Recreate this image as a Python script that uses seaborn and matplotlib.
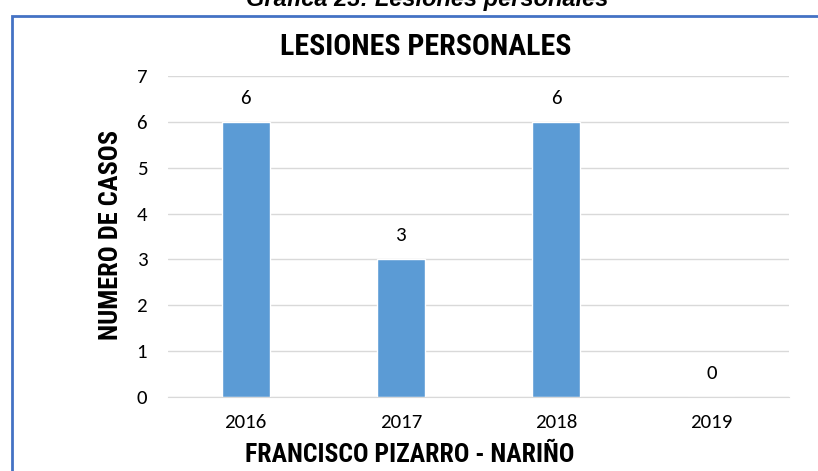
import matplotlib.pyplot as plt
import matplotlib.patches as patches
from matplotlib import font_manager as fm
import pandas as pd
import seaborn as sns

years = ['2016', '2017', '2018', '2019']
cases = [6, 3, 6, 0]

BAR = '#5B9BD5'
GRID = '#D9D9D9'
BORDER = '#4472C4'

bold_fonts = {f.name for f in fm.fontManager.ttflist
              if f.weight in (700, 'bold') and f.style == 'normal'}
installed = {f.name for f in fm.fontManager.ttflist}


def pick(candidates, pool):
    return [c for c in candidates if c in pool][:1] + ['DejaVu Sans']


NARROW = pick(['Liberation Sans Narrow', 'Arial Narrow', 'Roboto Condensed',
               'Fira Sans Condensed', 'IBM Plex Sans Condensed',
               'Archivo Narrow', 'Asap Condensed', 'PT Sans Narrow',
               'Pragati Narrow', 'Liberation Sans'],
              bold_fonts)
BODY = pick(['Carlito', 'Calibri', 'Lato'], installed)
ARIAL = pick(['Liberation Sans', 'Arimo'], installed)


def main():
    sns.set_style('white')
    plt.rcParams['font.family'] = BODY
    plt.rcParams['text.color'] = 'black'

    df = pd.DataFrame({'year': years, 'cases': cases})

    fig = plt.figure(figsize=(8.18, 4.71), dpi=100)
    ax = fig.add_axes([0.2054, 0.157, 0.759, 0.6815])

    sns.barplot(data=df, x='year', y='cases', color=BAR, width=0.31,
                saturation=1, ax=ax)

    ax.set_ylim(0, 7)
    ax.set_yticks(range(0, 8))
    ax.yaxis.grid(True, color=GRID, linewidth=1)
    ax.set_axisbelow(True)
    for s in ['top', 'right', 'left']:
        ax.spines[s].set_visible(False)
    ax.spines['bottom'].set_color(GRID)
    ax.tick_params(axis='both', length=0, labelsize=15, colors='black')
    ax.tick_params(axis='x', pad=12)
    ax.tick_params(axis='y', pad=15)
    ax.set_xlabel('')
    ax.set_ylabel('')

    for i, v in enumerate(cases):
        ax.annotate(str(v), (i, v), xytext=(0, 17), textcoords='offset points',
                    ha='center', va='center', fontsize=15)

    fig.text(410 / 818, 1 - 455 / 471, 'FRANCISCO PIZARRO - NARIÑO', ha='center',
             va='center', fontsize=18.5, fontweight='bold', family=NARROW)
    fig.text(111 / 818, 1 - 235 / 471, 'NUMERO DE CASOS', ha='center',
             va='center', rotation=90, fontsize=19, fontweight='bold', family=NARROW)
    fig.text(426 / 818, 1 - 47 / 471, 'LESIONES PERSONALES', ha='center', va='center',
             fontsize=21.5, fontweight='bold', family=NARROW)
    fig.text(427 / 818, 1 - 6 / 471, 'Gráfica 23: Lesiones personales', ha='center',
             va='baseline', fontsize=17, fontweight='bold', style='italic',
             family=ARIAL)

    fig.patches.append(patches.Rectangle((12 / 818, -0.1), 1.2, 1.1 - 16 / 471,
                                         transform=fig.transFigure, fill=False,
                                         edgecolor=BORDER, linewidth=2))

    fig.savefig('out.png', dpi=100)


if __name__ == '__main__':
    main()
